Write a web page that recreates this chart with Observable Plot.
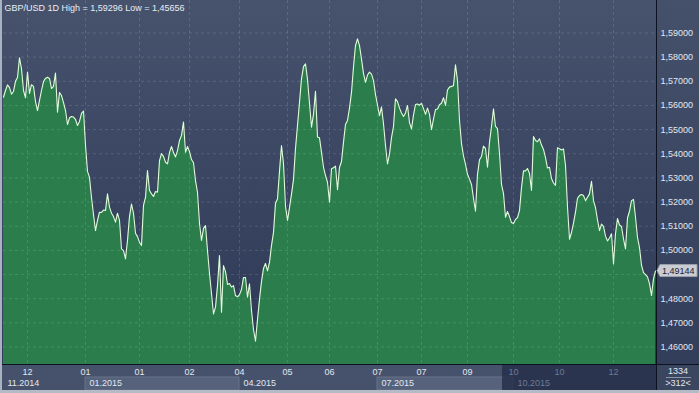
<!DOCTYPE html>
<html><head><meta charset="utf-8">
<script src="https://cdn.jsdelivr.net/npm/d3@7"></script>
<script src="https://cdn.jsdelivr.net/npm/@observablehq/plot@0.6"></script>
<style>
html,body{margin:0;padding:0;background:#3b4763;}
#chart svg{display:block;}
</style></head><body><div id="chart"></div>
<script>
// Daily closes GBP/USD (bar index = position in the array)
const closes = [
1.5634,1.5662,1.5685,1.5674,1.5647,1.5658,1.5700,1.5716,1.5797,1.5752,
1.5662,1.5632,1.5738,1.5650,1.5686,1.5679,1.5616,1.5579,1.5621,1.5662,
1.5699,1.5712,1.5717,1.5712,1.5670,1.5679,1.5734,1.5572,1.5654,1.5641,
1.5612,1.5579,1.5521,1.5549,1.5554,1.5552,1.5542,1.5517,1.5534,1.5567,
1.5577,1.5434,1.5327,1.5302,1.5219,1.5148,1.5082,1.5124,1.5158,1.5157,
1.5167,1.5165,1.5234,1.5179,1.5154,1.5140,1.5117,1.5154,1.5124,1.5006,
1.4999,1.4965,1.5041,1.5140,1.5192,1.5153,1.5071,1.5057,1.5033,1.5020,
1.5186,1.5219,1.5331,1.5248,1.5234,1.5223,1.5244,1.5241,1.5372,1.5401,
1.5389,1.5365,1.5358,1.5405,1.5430,1.5405,1.5387,1.5413,1.5455,1.5476,
1.5531,1.5406,1.5430,1.5409,1.5376,1.5363,1.5289,1.5240,1.5111,1.5041,
1.5091,1.5103,1.4999,1.4904,1.4821,1.4737,1.4765,1.4854,1.4979,1.4744,
1.4937,1.4912,1.4859,1.4863,1.4848,1.4854,1.4813,1.4808,1.4817,1.4838,
1.4888,1.4888,1.4806,1.4862,1.4751,1.4672,1.4624,1.4714,1.4797,1.4871,
1.4925,1.4946,1.4915,1.4950,1.5020,1.5074,1.5195,1.5213,1.5327,1.5434,
1.5358,1.5182,1.5124,1.5177,1.5233,1.5293,1.5422,1.5517,1.5613,1.5710,
1.5761,1.5772,1.5707,1.5608,1.5510,1.5563,1.5659,1.5469,1.5466,1.5406,
1.5344,1.5310,1.5282,1.5199,1.5338,1.5342,1.5349,1.5251,1.5343,1.5368,
1.5447,1.5521,1.5538,1.5589,1.5654,1.5759,1.5848,1.5876,1.5848,1.5792,
1.5732,1.5696,1.5726,1.5738,1.5730,1.5703,1.5645,1.5602,1.5558,1.5594,
1.5524,1.5434,1.5358,1.5399,1.5467,1.5513,1.5628,1.5616,1.5589,1.5569,
1.5554,1.5569,1.5600,1.5529,1.5503,1.5560,1.5604,1.5606,1.5601,1.5609,
1.5587,1.5563,1.5589,1.5563,1.5500,1.5544,1.5583,1.5585,1.5603,1.5609,
1.5632,1.5600,1.5664,1.5676,1.5679,1.5682,1.5768,1.5703,1.5538,1.5442,
1.5391,1.5356,1.5315,1.5295,1.5273,1.5215,1.5162,1.5315,1.5375,1.5389,
1.5432,1.5422,1.5344,1.5448,1.5513,1.5586,1.5513,1.5504,1.5400,1.5273,
1.5235,1.5137,1.5161,1.5140,1.5115,1.5111,1.5128,1.5136,1.5165,1.5260,
1.5329,1.5329,1.5339,1.5318,1.5248,1.5471,1.5455,1.5450,1.5462,1.5436,
1.5418,1.5384,1.5341,1.5344,1.5298,1.5279,1.5269,1.5425,1.5421,1.5416,
1.5420,1.5351,1.5179,1.5046,1.5074,1.5113,1.5158,1.5216,1.5227,1.5231,
1.5227,1.5206,1.5220,1.5234,1.5286,1.5206,1.5177,1.5126,1.5082,1.5109,
1.5099,1.5059,1.5039,1.5051,1.5069,1.4944,1.5069,1.5132,1.5105,1.5099,
1.5048,1.5006,1.5134,1.5162,1.5206,1.5211,1.5137,1.5054,1.5011,1.4939,
1.4908,1.4900,1.4890,1.4862,1.4813,1.4882,1.49144
];
const yTicks = [1.46,1.47,1.48,1.49,1.50,1.51,1.52,1.53,1.54,1.55,1.56,1.57,1.58,1.59];
const yDomain = [1.45275, 1.60346];
const xTicks = [12,41,68,93,118,142,163,187,209,232,255,278,305];
const xTickLabels = ["12","01","01","02","04","05","06","07","07","09","10","10","12"];
const periodStarts = [0,41,118,187,255];
const periodLabels = ["11.2014","01.2015","04.2015","07.2015","10.2015"];
const highlightedPeriods = [1,3];
const dimFrom = 249.5;
const title = "GBP/USD 1D High = 1,59296 Low = 1,45656";
const lastClose = 1.49144;
const barsTotal = "1334";
const barsVisible = ">312<";

const data = closes.map((c, i) => ({i, c}));
const fmt = v => d3.format(".5f")(v).replace(".", ",");
const light = "#e2e8f0", dim = "#6f7a94";
const font = "'Liberation Sans', Arial, sans-serif";
// the price tag hides the tick label closest to the last close
const labelTicks = yTicks.filter(t => Math.abs(t - lastClose) > 0.004);

const plot = Plot.plot({
  width: 699, height: 393,
  marginLeft: 3, marginRight: 43, marginTop: 0, marginBottom: 29,
  style: {background: "linear-gradient(#45516b, #313c59)", fontFamily: font, fontSize: "9px", overflow: "visible"},
  x: {domain: [0, 326.5], axis: null, label: null},
  y: {domain: yDomain, axis: null, label: null},
  marks: [
    Plot.frame({fill: "url(#plotBg)", stroke: null}),
    Plot.areaY(data, {x: "i", y1: yDomain[0], y2: "c", fill: "#2b7e4b", curve: "linear"}),
    Plot.gridY(yTicks, {stroke: "#ffffff", strokeOpacity: 0.13, strokeDasharray: "3,3"}),
    Plot.gridX(xTicks, {stroke: "#ffffff", strokeOpacity: 0.13, strokeDasharray: "3,3"}),
    Plot.lineY(data, {x: "i", y: "c", stroke: "#e2fbda", strokeWidth: 1.1}),
    Plot.axisY(labelTicks, {anchor: "right", label: null, tickSize: 0, tickPadding: 4, tickFormat: fmt, fill: light, fontSize: 9}),
    Plot.text([title], {frameAnchor: "top-left", dx: 1, dy: 8, textAnchor: "start", lineAnchor: "middle", fill: "#e8edf4", fontSize: 9}),
    Plot.text(xTicks.filter(d => d < dimFrom), {x: d => d, text: d => xTickLabels[xTicks.indexOf(d)], frameAnchor: "bottom", dy: 8, lineAnchor: "middle", fill: light, fontSize: 9}),
    Plot.text(xTicks.filter(d => d >= dimFrom), {x: d => d, text: d => xTickLabels[xTicks.indexOf(d)], frameAnchor: "bottom", dy: 8, lineAnchor: "middle", fill: dim, fontSize: 9}),
    Plot.text(periodStarts.filter(d => d < dimFrom), {x: d => d, text: d => periodLabels[periodStarts.indexOf(d)], frameAnchor: "bottom", dy: 19, dx: 4, textAnchor: "start", lineAnchor: "middle", fill: light, fontSize: 9}),
    Plot.text(periodStarts.filter(d => d >= dimFrom), {x: d => d, text: d => periodLabels[periodStarts.indexOf(d)], frameAnchor: "bottom", dy: 19, dx: 4, textAnchor: "start", lineAnchor: "middle", fill: dim, fontSize: 9})
  ]
});

const svg = d3.select(plot);
const xs = plot.scale("x").apply, ys = plot.scale("y").apply;
svg.insert("defs", ":first-child").html(
  '<linearGradient id="plotBg" x1="0" y1="0" x2="0" y2="1"><stop offset="0" stop-color="#47536d"/><stop offset="1" stop-color="#2d3856"/></linearGradient>');

// bottom band (under everything)
const bottomY = 364, bandEnd = 390, rightX = 656;
const band = svg.insert("g", "defs + *");
band.append("rect").attr("x", 0).attr("y", bottomY).attr("width", rightX).attr("height", bandEnd - bottomY).attr("fill", "#46526b");
band.append("rect").attr("x", rightX).attr("y", bottomY).attr("width", 699 - rightX).attr("height", bandEnd - bottomY).attr("fill", "#3a4560");
for (const k of highlightedPeriods) {
  const x1 = xs(periodStarts[k]), x2 = xs(periodStarts[k + 1]);
  band.append("rect").attr("x", x1).attr("y", 377).attr("width", x2 - x1).attr("height", bandEnd - 377)
    .attr("fill", "#56627b").attr("stroke", "#66728a").attr("stroke-width", 1);
}
band.append("rect").attr("x", xs(dimFrom)).attr("y", bottomY).attr("width", rightX - xs(dimFrom)).attr("height", bandEnd - bottomY)
  .attr("fill", "#242d49").attr("opacity", 0.8);

// frame lines
svg.append("line").attr("x1", 0).attr("x2", 699).attr("y1", bottomY + 0.5).attr("y2", bottomY + 0.5).attr("stroke", "#0d1220");
svg.append("line").attr("x1", rightX + 0.5).attr("x2", rightX + 0.5).attr("y1", 0).attr("y2", bandEnd).attr("stroke", "#0d1220");
svg.append("rect").attr("x", 0).attr("y", 0).attr("width", 2).attr("height", 393).attr("fill", "#a9b2c0");
svg.append("rect").attr("x", 0).attr("y", bandEnd).attr("width", 699).attr("height", 3).attr("fill", "#b4bbc6");

// right panel: bar counts
svg.append("text").attr("x", 678).attr("y", 371).attr("dy", "0.35em").attr("text-anchor", "middle").attr("fill", light).attr("font-size", 9).text(barsTotal);
svg.append("line").attr("x1", 666).attr("x2", 691).attr("y1", 377.5).attr("y2", 377.5).attr("stroke", "#8b94a6");
svg.append("text").attr("x", 678).attr("y", 383).attr("dy", "0.35em").attr("text-anchor", "middle").attr("fill", light).attr("font-size", 9).text(barsVisible);

// last price tag
const py = ys(lastClose);
svg.append("path").attr("d", `M${rightX + 1},${py} L${rightX + 4},${py - 6} L697,${py - 6} L697,${py + 6} L${rightX + 4},${py + 6} Z`)
  .attr("fill", "#c9cdd3").attr("stroke", "#9aa1ad");
svg.append("text").attr("x", 662).attr("y", py).attr("dy", "0.35em").attr("text-anchor", "start").attr("fill", "#1c2333").attr("font-size", 9).text(fmt(lastClose));

document.getElementById("chart").append(plot);
</script>
</body></html>
